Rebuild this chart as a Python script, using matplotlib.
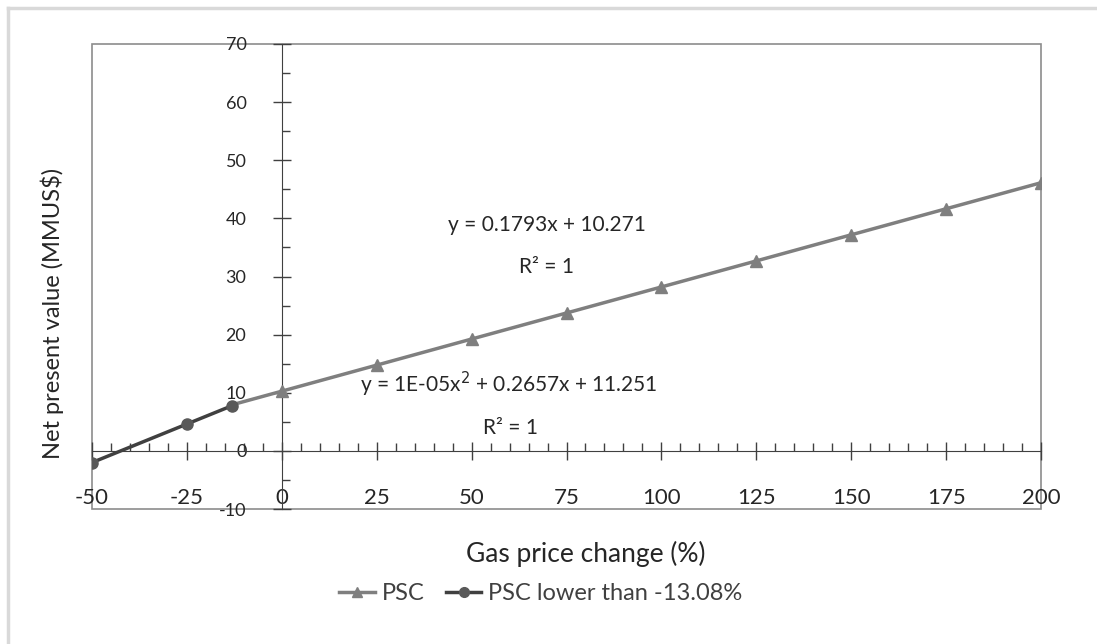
import numpy as np
import matplotlib
matplotlib.use('Agg')
import matplotlib.pyplot as plt
from matplotlib.patches import Rectangle
from matplotlib.lines import Line2D

plt.rcParams['font.family'] = ['Lato', 'DejaVu Sans']
plt.rcParams['axes.unicode_minus'] = False

# data: NPV (MMUS$) vs gas price change (%)
psc_x = [-13.08, 0, 25, 50, 75, 100, 125, 150, 175, 200]
psc_y = [7.93, 10.27, 14.75, 19.24, 23.72, 28.20, 32.68, 37.17, 41.65, 46.13]
low_x = [-50, -25, -13.08]
low_y = [-2.01, 4.62, 7.78]

eq1 = 'y = 0.1793x + 10.271'
eq2 = 'y = 1E-05x$^{2}$ + 0.2657x + 11.251'

fig = plt.figure(figsize=(10.97, 6.44), dpi=100)
ax = fig.add_axes([92/1097, 1 - 509/644, 949/1097, 465/644])

# outer frame (light gray)
fig.add_artist(Line2D([8/1097, 1], [1 - 8/644, 1 - 8/644], transform=fig.transFigure, color='#d9d9d9', lw=2.5))
fig.add_artist(Line2D([8/1097, 8/1097], [0, 1 - 8/644], transform=fig.transFigure, color='#d9d9d9', lw=2.5))

ax.plot(psc_x, psc_y, color='#7f7f7f', lw=2.5, zorder=3)
ax.plot(psc_x[1:], psc_y[1:], ls='none', marker='^', ms=8, color='#7f7f7f', zorder=4)
ax.plot(low_x, low_y, color='#404040', lw=2.5, marker='o', ms=8,
        markerfacecolor='#595959', markeredgecolor='#595959', zorder=5)

ax.set_xlim(-50, 200)
ax.set_ylim(-10, 70)

# axes crossing at zero
for s in ['top', 'right']:
    ax.spines[s].set_visible(False)
ax.spines['left'].set_position(('data', 0))
ax.spines['bottom'].set_position(('data', 0))
ax.spines['left'].set_color('#404040')
ax.spines['bottom'].set_color('#404040')
ax.add_patch(Rectangle((0, 0), 1, 1, transform=ax.transAxes, fill=False,
                       edgecolor='#8c8c8c', lw=1.2, zorder=0, clip_on=False))

ax.set_xticks(np.arange(-50, 201, 25))
ax.set_xticks(np.arange(-50, 201, 5), minor=True)
ax.set_yticks(np.arange(-10, 71, 10))
ax.set_yticks(np.arange(-10, 71, 5), minor=True)

ax.tick_params(which='major', direction='inout', length=13, width=1, color='#404040')
ax.tick_params(which='minor', direction='in', length=6, width=1, color='#404040')
ax.tick_params(axis='x', which='major', labelsize=16, pad=20, labelcolor='#262626')
ax.tick_params(axis='y', which='major', labelsize=13, pad=19, labelcolor='#262626')

ax.text(69.8, 38.9, eq1, ha='center', va='center', fontsize=15, color='#262626')
ax.text(69.8, 31.7, 'R² = 1', ha='center', va='center', fontsize=15, color='#262626')
ax.text(59.8, 11.4, eq2, ha='center', va='center', fontsize=15, color='#262626')
ax.text(60.3, 4.0, 'R² = 1', ha='center', va='center', fontsize=15, color='#262626')

fig.text(586/1097, 1 - 554/644, 'Gas price change (%)', ha='center', va='center', fontsize=19, color='#262626')
fig.text(52/1097, 1 - 313/644, 'Net present value (MMUS$)', ha='center', va='center',
         rotation=90, fontsize=17, color='#262626')

h1 = Line2D([], [], color='#7f7f7f', lw=2.5, marker='^', ms=7)
h2 = Line2D([], [], color='#404040', lw=2.5, marker='o', ms=7,
            markerfacecolor='#595959', markeredgecolor='#595959')
fig.legend([h1, h2], ['PSC', 'PSC lower than -13.08%'], loc='center',
           bbox_to_anchor=(541/1097, 1 - 594/644), ncol=2, frameon=False,
           fontsize=17, handlelength=1.5, handletextpad=0.3, columnspacing=0.9,
           labelcolor='#404040')

fig.savefig('out.png', dpi=100)
